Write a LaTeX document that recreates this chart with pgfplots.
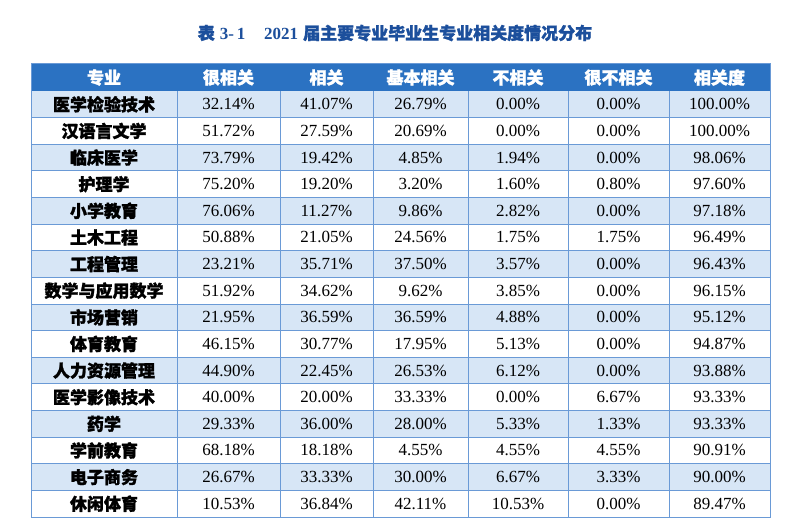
\documentclass[border=0pt]{standalone}
\usepackage{pgfplots}
\pgfplotsset{compat=1.18}
\usepackage{pgfplotstable}
\usepackage{fontspec}
\setmainfont{Liberation Serif}
\newfontfamily\cjk[BoldFeatures={FakeBold=1.5}]{Noto Sans CJK SC}

\definecolor{headblue}{HTML}{2B72C2}
\definecolor{rowblue}{HTML}{D7E6F6}
\definecolor{gridblue}{HTML}{6A9AD6}
\definecolor{titleblue}{HTML}{1C4F9C}

% 专业 / 很相关 / 相关 / 基本相关 / 不相关 / 很不相关 / 相关度
\pgfplotstableread{
name a b c d e f
医学检验技术 32.14 41.07 26.79 0.00 0.00 100.00
汉语言文学 51.72 27.59 20.69 0.00 0.00 100.00
临床医学 73.79 19.42 4.85 1.94 0.00 98.06
护理学 75.20 19.20 3.20 1.60 0.80 97.60
小学教育 76.06 11.27 9.86 2.82 0.00 97.18
土木工程 50.88 21.05 24.56 1.75 1.75 96.49
工程管理 23.21 35.71 37.50 3.57 0.00 96.43
数学与应用数学 51.92 34.62 9.62 3.85 0.00 96.15
市场营销 21.95 36.59 36.59 4.88 0.00 95.12
体育教育 46.15 30.77 17.95 5.13 0.00 94.87
人力资源管理 44.90 22.45 26.53 6.12 0.00 93.88
医学影像技术 40.00 20.00 33.33 0.00 6.67 93.33
药学 29.33 36.00 28.00 5.33 1.33 93.33
学前教育 68.18 18.18 4.55 4.55 4.55 90.91
电子商务 26.67 33.33 30.00 6.67 3.33 90.00
休闲体育 10.53 36.84 42.11 10.53 0.00 89.47
}\majors

\pgfplotsset{
  cell/.style={only marks, mark=*, mark size=0pt,
    mark options={draw=none,fill=none},
    point meta=explicit symbolic, nodes near coords,
    nodes near coords align={anchor=center},
    every node near coord/.append style={anchor=center, inner sep=0pt}},
  numcell/.style={cell, nodes near coords={\pgfplotspointmeta\%},
    every node near coord/.append style={font=\fontsize{17}{20}\selectfont}},
}

\begin{document}
\begin{tikzpicture}
\begin{axis}[
  scale only axis, width=790pt, height=529pt,
  xmin=0, xmax=790, ymin=0, ymax=529, y dir=reverse,
  hide axis,
]
% background
\addplot[fill=white, draw=none] coordinates {(0,0) (790,0) (790,529) (0,529)};
% header
\addplot[fill=headblue, draw=none] coordinates {(31,64) (770,64) (770,91) (31,91)};
% shaded rows
\foreach \i in {0,2,...,14}{
  \pgfmathsetmacro\ya{91+26.625*\i}
  \pgfmathsetmacro\yb{91+26.625*(\i+1)}
  \edef\temp{\noexpand\addplot[fill=rowblue, draw=none] coordinates {(31,\ya) (770,\ya) (770,\yb) (31,\yb)};}
  \temp
}
% grid
\foreach \i in {1,...,15}{
  \pgfmathsetmacro\ya{91+26.625*\i}
  \edef\temp{\noexpand\addplot[gridblue, line width=0.8pt] coordinates {(31,\ya) (770,\ya)};}
  \temp
}
\foreach \xx in {177,280,373,468,568,669}{
  \edef\temp{\noexpand\addplot[gridblue, line width=0.8pt] coordinates {(\xx,91) (\xx,517)};}
  \temp
}
\addplot[gridblue, line width=1pt] coordinates {(31,64) (770,64) (770,517) (31,517) (31,64)};

% title
\addplot[cell, nodes near coords={\textcolor{titleblue}{\fontsize{17}{20}\selectfont\cjk\bfseries 表\hspace{0.3em}{\rmfamily\bfseries 3-\,1}\hspace{1.1em}{\rmfamily\bfseries 2021}\hspace{0.3em}届主要专业毕业生专业相关度情况分布}}]
  coordinates {(395,33) [t]};

% header text
\addplot[cell, every node near coord/.append style={text=white, font=\fontsize{17}{20}\selectfont\cjk\bfseries}]
  coordinates {(104,77.5) [专业] (228.5,77.5) [很相关] (326.5,77.5) [相关] (420.5,77.5) [基本相关]
               (518,77.5) [不相关] (618.5,77.5) [很不相关] (719.5,77.5) [相关度]};

% body
\addplot[cell, every node near coord/.append style={font=\fontsize{17}{20}\selectfont\cjk\bfseries}]
  table[x expr=104, y expr=104.3125+26.625*\coordindex, meta=name] {\majors};
\addplot[numcell] table[x expr=228.5, y expr=104.3125+26.625*\coordindex, meta=a] {\majors};
\addplot[numcell] table[x expr=326.5, y expr=104.3125+26.625*\coordindex, meta=b] {\majors};
\addplot[numcell] table[x expr=420.5, y expr=104.3125+26.625*\coordindex, meta=c] {\majors};
\addplot[numcell] table[x expr=518,   y expr=104.3125+26.625*\coordindex, meta=d] {\majors};
\addplot[numcell] table[x expr=618.5, y expr=104.3125+26.625*\coordindex, meta=e] {\majors};
\addplot[numcell] table[x expr=719.5, y expr=104.3125+26.625*\coordindex, meta=f] {\majors};
\end{axis}
\end{tikzpicture}
\end{document}
